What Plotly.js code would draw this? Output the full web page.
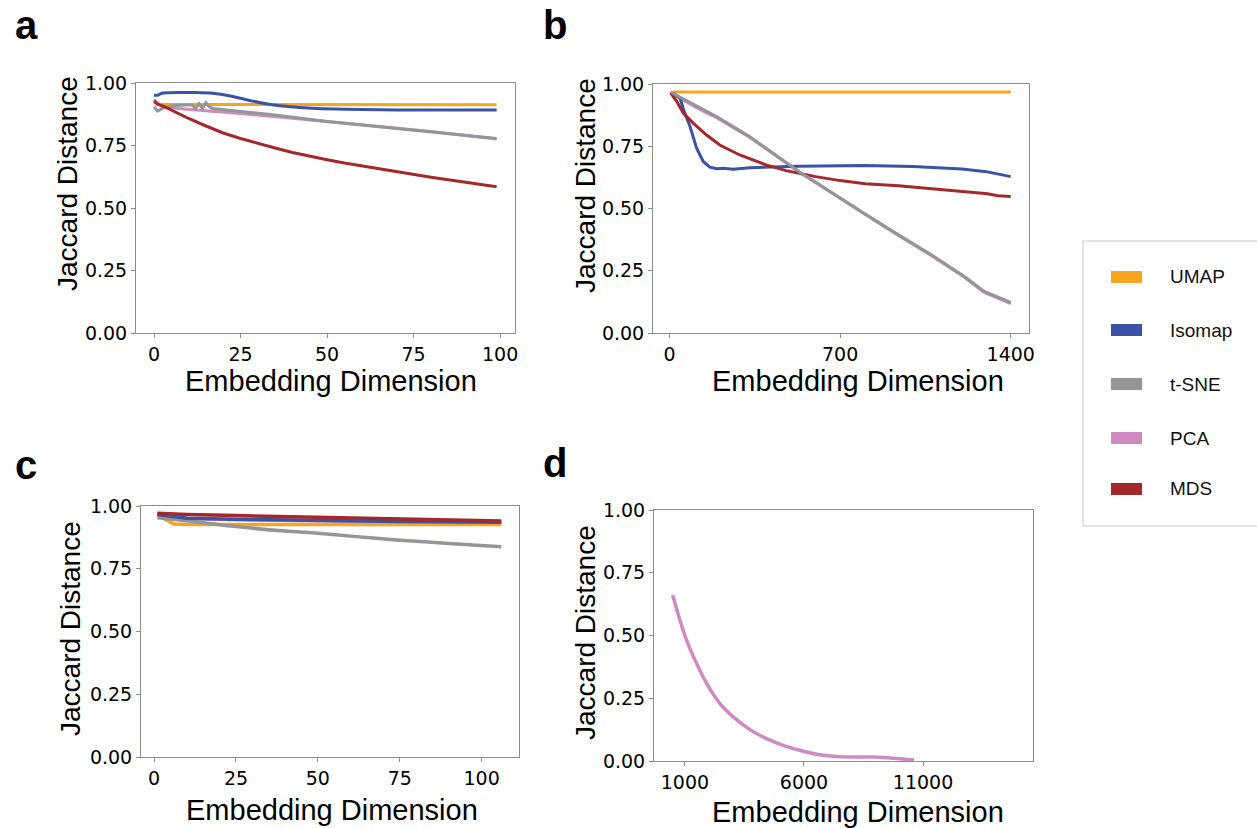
<!DOCTYPE html>
<html>
<head>
<meta charset="utf-8">
<script src="https://cdn.plot.ly/plotly-3.0.1.min.js"></script>
<style>html,body{margin:0;padding:0;background:#fff;}#chart{width:1257px;height:828px;}</style>
</head>
<body>
<div id="chart"></div>
<script>
// ---------- data ----------
const methods = ["UMAP", "Isomap", "t-SNE", "PCA", "MDS"];
const colors = {"UMAP": "#F7A51C", "Isomap": "#3A53A4", "t-SNE": "#939598", "PCA": "#CF8BC1", "MDS": "#A4282B"};

// panel a
const aUmapX = [0, 1, 2, 5, 10, 20, 30, 40, 50, 60, 70, 80, 90, 99];
const aUmapY = [0.924, 0.916, 0.914, 0.914, 0.914, 0.913, 0.915, 0.914, 0.913, 0.914, 0.914, 0.913, 0.914, 0.913];
const aIsoX = [0, 1, 2, 4, 7, 12, 17, 22, 27, 32, 37, 42, 47, 55, 65, 75, 85, 99];
const aIsoY = [0.951, 0.951, 0.958, 0.961, 0.962, 0.962, 0.959, 0.948, 0.932, 0.918, 0.908, 0.902, 0.898, 0.895, 0.893, 0.892, 0.892, 0.892];
const aTsneX = [0, 1, 3, 6, 9, 11, 12, 13, 14, 15, 16, 17, 25, 35, 50, 65, 80, 99];
const aTsneY = [0.905, 0.888, 0.902, 0.910, 0.912, 0.912, 0.899, 0.917, 0.899, 0.921, 0.905, 0.898, 0.886, 0.872, 0.846, 0.826, 0.806, 0.778];
const aPcaX = [0, 1, 2, 4, 7, 10, 15, 25, 35, 50, 65, 80, 99];
const aPcaY = [0.935, 0.921, 0.912, 0.903, 0.898, 0.894, 0.889, 0.878, 0.866, 0.846, 0.826, 0.806, 0.776];
const aMdsX = [0, 1, 3, 6, 10, 15, 20, 25, 30, 35, 40, 45, 50, 55, 60, 65, 70, 75, 80, 85, 90, 95, 99];
const aMdsY = [0.928, 0.915, 0.905, 0.884, 0.858, 0.828, 0.800, 0.778, 0.758, 0.740, 0.722, 0.706, 0.693, 0.680, 0.668, 0.656, 0.645, 0.634, 0.623, 0.613, 0.603, 0.594, 0.585];

// panel b
const bUmapX = [0, 20, 100, 300, 500, 700, 900, 1100, 1300, 1400];
const bUmapY = [0.963, 0.968, 0.968, 0.968, 0.968, 0.968, 0.968, 0.968, 0.968, 0.968];
const bIsoX = [5, 20, 43, 60, 84, 111, 138, 165, 193, 220, 260, 330, 530, 800, 1000, 1100, 1200, 1300, 1350, 1400];
const bIsoY = [0.963, 0.960, 0.943, 0.890, 0.829, 0.742, 0.689, 0.666, 0.660, 0.662, 0.658, 0.664, 0.670, 0.673, 0.669, 0.665, 0.659, 0.648, 0.639, 0.628];
const bTsneX = [5, 57, 125, 193, 260, 328, 396, 464, 532, 600, 667, 803, 939, 1074, 1210, 1291, 1400];
const bTsneY = [0.967, 0.940, 0.902, 0.869, 0.829, 0.789, 0.742, 0.695, 0.648, 0.605, 0.562, 0.478, 0.394, 0.314, 0.227, 0.167, 0.123];
const bPcaX = [5, 57, 125, 193, 260, 328, 396, 464, 532, 600, 667, 803, 939, 1074, 1210, 1291, 1400];
const bPcaY = [0.964, 0.934, 0.897, 0.865, 0.826, 0.786, 0.740, 0.693, 0.646, 0.603, 0.560, 0.476, 0.392, 0.311, 0.224, 0.163, 0.118];
const bMdsX = [5, 30, 57, 98, 152, 206, 288, 396, 478, 600, 700, 803, 939, 1074, 1210, 1305, 1346, 1400];
const bMdsY = [0.963, 0.929, 0.882, 0.842, 0.795, 0.755, 0.715, 0.675, 0.652, 0.628, 0.612, 0.599, 0.591, 0.580, 0.568, 0.559, 0.551, 0.548];

// panel c
const cUmapX = [1, 3, 6, 10, 25, 50, 75, 106];
const cUmapY = [0.964, 0.950, 0.928, 0.926, 0.926, 0.926, 0.926, 0.926];
const cIsoX = [1, 5, 10, 25, 50, 75, 106];
const cIsoY = [0.966, 0.958, 0.951, 0.947, 0.941, 0.938, 0.935];
const cTsneX = [1, 5, 10, 25, 40, 50, 60, 75, 90, 106];
const cTsneY = [0.953, 0.948, 0.941, 0.918, 0.900, 0.891, 0.880, 0.864, 0.851, 0.838];
const cPcaX = [1, 3, 6, 10, 25, 50, 75, 106];
const cPcaY = [0.971, 0.962, 0.955, 0.950, 0.945, 0.940, 0.937, 0.935];
const cMdsX = [1, 10, 25, 50, 75, 106];
const cMdsY = [0.971, 0.966, 0.962, 0.955, 0.948, 0.940];

// panel d
const dPcaX = [482, 790, 1070, 1490, 1910, 2470, 3030, 3730, 4430, 5130, 5830, 6530, 7230, 7930, 8910, 9610, 10170, 10620];
const dPcaY = [0.661, 0.561, 0.481, 0.388, 0.309, 0.229, 0.176, 0.125, 0.089, 0.0625, 0.0426, 0.0266, 0.0186, 0.016, 0.016, 0.012, 0.008, 0.004];

const yTicks = [0, 0.25, 0.5, 0.75, 1.0];
const aXTicks = [0, 25, 50, 75, 100];
const bXTicks = [0, 700, 1400];
const cXTicks = [0, 25, 50, 75, 100];
const dXTicks = [1000, 6000, 11000];
const panelLabels = ["a", "b", "c", "d"];
const xTitle = "Embedding Dimension";
const yTitle = "Jaccard Distance";

// ---------- build ----------
const W = 1257, H = 828;
const px = v => v / W;
const py = v => 1 - v / H;

function line(x, y, name, ax, width, smooth) {
  const ln = {color: colors[name], width: width};
  if (smooth) { ln.shape = "spline"; ln.smoothing = 0.8; }
  return {x: x, y: y, type: "scatter", mode: "lines", name: name, showlegend: false,
    xaxis: "x" + ax, yaxis: "y" + ax, line: ln};
}
const traces = [
  line(aPcaX, aPcaY, "PCA", "", 3),
  line(aUmapX, aUmapY, "UMAP", "", 3),
  line(aIsoX, aIsoY, "Isomap", "", 3, true),
  line(aTsneX, aTsneY, "t-SNE", "", 3),
  line(aMdsX, aMdsY, "MDS", "", 3),
  line(bPcaX, bPcaY, "PCA", "2", 3),
  line(bUmapX, bUmapY, "UMAP", "2", 3),
  line(bIsoX, bIsoY, "Isomap", "2", 3),
  line(bMdsX, bMdsY, "MDS", "2", 3),
  line(bTsneX, bTsneY, "t-SNE", "2", 3),
  line(cPcaX, cPcaY, "PCA", "3", 3.5),
  line(cUmapX, cUmapY, "UMAP", "3", 3.5),
  line(cTsneX, cTsneY, "t-SNE", "3", 3.5, true),
  line(cIsoX, cIsoY, "Isomap", "3", 3.5),
  line(cMdsX, cMdsY, "MDS", "3", 3.5),
  line(dPcaX, dPcaY, "PCA", "4", 3.5, true)
];

const tickFont = {family: "DejaVu Sans", size: 19, color: "#000"};
function xa(domainPx, range, ticks, anchor) {
  return {domain: [px(domainPx[0]), px(domainPx[1])], range: range, anchor: anchor,
    tickmode: "array", tickvals: ticks, ticktext: ticks.map(String),
    ticks: "outside", ticklen: 4, tickcolor: "#8c8c8c", tickwidth: 1,
    showline: true, linecolor: "#8c8c8c", linewidth: 1, mirror: true,
    showgrid: false, zeroline: false, tickfont: tickFont};
}
function ya(domainPx, anchor) {
  return {domain: [py(domainPx[1]), py(domainPx[0])], range: [0, 1], anchor: anchor,
    tickmode: "array", tickvals: yTicks, ticktext: yTicks.map(v => v.toFixed(2)),
    ticks: "outside", ticklen: 4, tickcolor: "#8c8c8c", tickwidth: 1,
    showline: true, linecolor: "#8c8c8c", linewidth: 1, mirror: true,
    showgrid: false, zeroline: false, tickfont: tickFont};
}

const xTitleFont = {family: "Liberation Sans, Arial, sans-serif", size: 29, color: "#000"};
const yTitleFont = {family: "Liberation Sans, Arial, sans-serif", size: 28, color: "#000"};
const annotations = [];
// axis titles
[[331, 381], [858, 381], [332, 810], [858, 812]].forEach(p => {
  annotations.push({text: xTitle, x: px(p[0]), y: py(p[1]), xref: "paper", yref: "paper",
    xanchor: "center", yanchor: "middle", showarrow: false, font: xTitleFont});
});
[[67, 184], [585, 186], [70, 629], [585, 633]].forEach(p => {
  annotations.push({text: yTitle, x: px(p[0]), y: py(p[1]), xref: "paper", yref: "paper",
    xanchor: "center", yanchor: "middle", showarrow: false, textangle: -90, font: yTitleFont});
});
// panel labels
[[26, 25], [555, 25], [26, 465], [555, 463]].forEach((p, i) => {
  annotations.push({text: "<b>" + panelLabels[i] + "</b>", x: px(p[0]), y: py(p[1]), xref: "paper", yref: "paper",
    xanchor: "center", yanchor: "middle", showarrow: false,
    font: {family: "Liberation Sans, Arial, sans-serif", size: 40, color: "#000"}});
});

// legend (drawn)
const shapes = [{type: "rect", xref: "paper", yref: "paper", x0: px(1083), x1: px(1270), y0: py(526), y1: py(241),
  line: {color: "#c8c8c8", width: 1}, fillcolor: "rgba(0,0,0,0)"}];
const legY = [277, 330, 384, 438, 489];
methods.forEach((m, i) => {
  shapes.push({type: "rect", xref: "paper", yref: "paper", x0: px(1111), x1: px(1142),
    y0: py(legY[i] + 6), y1: py(legY[i] - 6), line: {width: 0}, fillcolor: colors[m]});
  annotations.push({text: m, x: px(1168), y: py(legY[i]), xref: "paper", yref: "paper",
    xanchor: "left", yanchor: "middle", showarrow: false,
    font: {family: "Liberation Sans, Arial, sans-serif", size: 19, color: "#111"}});
});

const layout = {
  width: W, height: H, margin: {l: 0, r: 0, t: 0, b: 0},
  paper_bgcolor: "#fff", plot_bgcolor: "#fff", showlegend: false,
  xaxis: xa([136, 515], [-5.2, 104.3], aXTicks, "y"),
  yaxis: ya([83, 333], "x"),
  xaxis2: xa([653, 1029], [-68, 1475], bXTicks, "y2"),
  yaxis2: ya([84, 333], "x2"),
  xaxis3: xa([141, 519], [-4.0, 111.4], cXTicks, "y3"),
  yaxis3: ya([506, 757], "x3"),
  xaxis4: xa([654, 1033], [-300, 15620], dXTicks, "y4"),
  yaxis4: ya([510, 761], "x4"),
  annotations: annotations,
  shapes: shapes
};

Plotly.newPlot("chart", traces, layout, {displayModeBar: false, staticPlot: true});
</script>
</body>
</html>
